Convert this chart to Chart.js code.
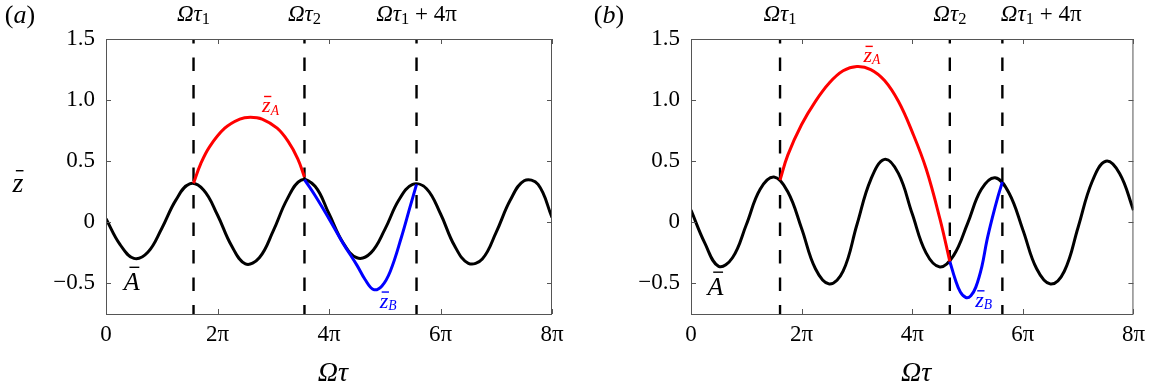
<!DOCTYPE html>
<html>
<head>
<meta charset="utf-8">
<script src="https://cdn.jsdelivr.net/npm/chart.js@4.4.1/dist/chart.umd.min.js"></script>
<style>
  body { margin: 0; background: #fff; }
  #wrap { position: relative; width: 1152px; height: 390px; }
  canvas { position: absolute; top: 0; }
</style>
</head>
<body>
<div id="wrap">
  <canvas id="panelA" width="576" height="390" style="left:0"></canvas>
  <canvas id="panelB" width="576" height="390" style="left:576px"></canvas>
</div>
<script>
// x values are in units of pi (0 .. 8 pi)
const xTicks = [0, 2, 4, 6, 8];
const xLabels = ['0', '2π', '4π', '6π', '8π'];
const yTicks = [-0.5, 0, 0.5, 1, 1.5];
const yLabels = ['−0.5', '0', '0.5', '1.0', '1.5'];

const phase = [0, 0.25, 0.5, 0.75, 1, 1.25, 1.5, 1.75, 2, 2.25, 2.5, 2.75, 3, 3.25, 3.5, 3.75,
               4, 4.25, 4.5, 4.75, 5, 5.25, 5.5, 5.75, 6, 6.25, 6.5, 6.75, 7, 7.25, 7.5, 7.75, 8];

// panel (a)
const tauA = [1.57, 3.56, 5.57];
const blackA = [0.03, -0.18, -0.295, -0.245, -0.05, 0.18, 0.315, 0.265, 0.06, -0.19, -0.34, -0.29, -0.07,
                0.19, 0.345, 0.295, 0.07, -0.165, -0.29, -0.25, -0.06, 0.18, 0.31, 0.275, 0.07, -0.19, -0.335,
                -0.3, -0.08, 0.18, 0.34, 0.31, 0.04];
const redAx = [1.57, 1.7, 1.86, 2.13, 2.4, 2.59, 2.8, 3.07, 3.27, 3.44, 3.56];
const redAy = [0.32, 0.48, 0.62, 0.77, 0.845, 0.86, 0.845, 0.77, 0.66, 0.52, 0.37];
const blueAx = [3.56, 3.75, 4.0, 4.25, 4.5, 4.65, 4.8, 4.95, 5.1, 5.3, 5.45, 5.57];
const blueAy = [0.35, 0.22, 0.03, -0.17, -0.35, -0.47, -0.55, -0.52, -0.4, -0.12, 0.12, 0.31];

// panel (b)
const tauB = [1.61, 4.68, 5.63];
const blackB = [0.1, -0.17, -0.36, -0.29, -0.02, 0.27, 0.37, 0.25, -0.05, -0.38, -0.505, -0.4, -0.02,
                0.35, 0.515, 0.4, 0.07, -0.25, -0.365, -0.27, -0.01, 0.27, 0.365, 0.24, -0.06, -0.38, -0.505,
                -0.4, -0.04, 0.33, 0.5, 0.4, 0.1];
const redBx = [1.61, 1.75, 2.0, 2.25, 2.5, 2.75, 3.0, 3.25, 3.5, 3.75, 4.0, 4.25, 4.5, 4.68];
const redBy = [0.345, 0.55, 0.8, 0.99, 1.14, 1.24, 1.275, 1.25, 1.16, 0.99, 0.74, 0.44, 0.03, -0.32];
const blueBx = [4.68, 4.78, 4.87, 4.97, 5.06, 5.15, 5.26, 5.35, 5.45, 5.55, 5.63];
const blueBy = [-0.32, -0.47, -0.57, -0.615, -0.6, -0.53, -0.36, -0.15, 0.04, 0.21, 0.33];

const SERIF = '"Liberation Serif"';

function pts(xs, ys) { return xs.map((x, i) => ({ x: x, y: ys[i] })); }

// draw a run of text pieces: {t, it (italic), sub, bar}
function drawMath(ctx, parts, x, y, size, align, opt) {
  opt = Object.assign({ subScale: 0.72, subDrop: 0.15, barH: 0.72, barW: 0.8, barDx: 0.06 }, opt || {});
  let total = 0;
  const items = parts.map(p => {
    const fs = p.sub ? size * opt.subScale : size;
    const font = (p.it ? 'italic ' : '') + fs + 'px ' + SERIF;
    ctx.font = font;
    const w = ctx.measureText(p.t).width;
    total += w;
    return Object.assign({}, p, { font: font, w: w, fs: fs });
  });
  let cx = align === 'center' ? x - total / 2 : (align === 'right' ? x - total : x);
  ctx.textBaseline = 'alphabetic';
  ctx.textAlign = 'left';
  items.forEach(it => {
    const yy = y + (it.sub ? size * opt.subDrop : 0);
    ctx.font = it.font;
    ctx.fillText(it.t, cx, yy);
    if (it.bar) {
      const bw = it.w * opt.barW;
      const bx = cx + it.w * 0.5 - bw / 2 + it.fs * opt.barDx;
      ctx.save();
      ctx.strokeStyle = ctx.fillStyle;
      ctx.lineWidth = 1.4;
      ctx.beginPath();
      ctx.moveTo(bx, yy - it.fs * opt.barH);
      ctx.lineTo(bx + bw, yy - it.fs * opt.barH);
      ctx.stroke();
      ctx.restore();
    }
    cx += it.w;
  });
}

function makePanel(id, cfg) {
  const datasets = [
    { data: pts(cfg.redX, cfg.redY), borderColor: '#ff0000' },
    { data: pts(cfg.blueX, cfg.blueY), borderColor: '#0000ff' },
    { data: pts(phase, cfg.black), borderColor: '#000000' }
  ].map(d => Object.assign(d, { borderWidth: 3, tension: 0.4 }));
  cfg.tau.forEach(t => {
    datasets.push({
      data: [{ x: t, y: 1.5 }, { x: t, y: -0.75 }],
      borderColor: '#000', borderWidth: 2.4, borderDash: [13.5, 14], borderDashOffset: 9
    });
  });

  const frame = {
    id: 'frame',
    afterDraw(chart) {
      const ctx = chart.ctx;
      const a = chart.chartArea;
      const xs = chart.scales.x, ys = chart.scales.y;
      ctx.save();
      ctx.strokeStyle = '#555';
      ctx.lineWidth = 1;
      ctx.strokeRect(a.left + 0.5, a.top + 0.5, a.right - a.left - 1, a.bottom - a.top);
      ctx.beginPath();
      xTicks.forEach(v => {
        const px = Math.round(xs.getPixelForValue(v)) + 0.5;
        ctx.moveTo(px, a.bottom); ctx.lineTo(px, a.bottom - 5);
        ctx.moveTo(px, a.top); ctx.lineTo(px, a.top + 5);
      });
      yTicks.forEach(v => {
        const py = Math.round(ys.getPixelForValue(v)) + 0.5;
        ctx.moveTo(a.left, py); ctx.lineTo(a.left + 5, py);
        ctx.moveTo(a.right, py); ctx.lineTo(a.right - 5, py);
      });
      ctx.stroke();

      ctx.fillStyle = '#000';
      // labels of the dashed lines
      const topLabels = [
        [{ t: 'Ωτ', it: true }, { t: '1', sub: true }],
        [{ t: 'Ωτ', it: true }, { t: '2', sub: true }],
        [{ t: 'Ωτ', it: true }, { t: '1', sub: true }, { t: ' + 4π' }]
      ];
      cfg.tau.forEach((t, i) => {
        const px = xs.getPixelForValue(t);
        const al = cfg.lastLeft && i === 2 ? 'left' : 'center';
        drawMath(ctx, topLabels[i], al === 'left' ? px - 1.5 : px, 21, 23, al);
      });
      // panel letter
      drawMath(ctx, [{ t: '(' }, { t: cfg.letter, it: true }, { t: ')' }], cfg.letterX, 23, 26, 'center');
      // x title
      drawMath(ctx, [{ t: 'Ωτ', it: true }], (a.left + a.right) / 2 + 4, 381, 28, 'center');
      if (cfg.yTitle) {
        drawMath(ctx, [{ t: 'z', it: true, bar: true }], a.left - 88, 192, 28, 'center', { barH: 0.76, barW: 0.7 });
      }
      // curve labels
      const lab = { subScale: 0.62, subDrop: 0.1, barH: 0.72, barW: 0.85 };
      ctx.fillStyle = '#ff0000';
      drawMath(ctx, [{ t: 'z', it: true, bar: true }, { t: 'A', it: true, sub: true }],
        xs.getPixelForValue(cfg.zA[0]), ys.getPixelForValue(cfg.zA[1]), 22, 'left', lab);
      ctx.fillStyle = '#0000ff';
      drawMath(ctx, [{ t: 'z', it: true, bar: true }, { t: 'B', it: true, sub: true }],
        xs.getPixelForValue(cfg.zB[0]), ys.getPixelForValue(cfg.zB[1]), 22, 'left', lab);
      ctx.fillStyle = '#000';
      drawMath(ctx, [{ t: 'A', it: true, bar: true }],
        xs.getPixelForValue(cfg.calA[0]), ys.getPixelForValue(cfg.calA[1]), 26, 'left',
        { barH: 0.88, barW: 0.62, barDx: 0.1 });
      ctx.restore();
    }
  };

  return new Chart(document.getElementById(id), {
    type: 'line',
    data: { datasets: datasets },
    options: {
      responsive: false,
      animation: false,
      devicePixelRatio: 1,
      layout: { padding: { left: 0, right: cfg.padRight, top: 39, bottom: 0 } },
      elements: { point: { radius: 0 } },
      plugins: { legend: { display: false }, tooltip: { enabled: false } },
      scales: {
        x: {
          type: 'linear', min: 0, max: 8,
          grid: { display: false, drawTicks: false },
          border: { display: false },
          afterBuildTicks: s => { s.ticks = xTicks.map(v => ({ value: v })); },
          afterFit: s => { s.height = 76; },
          ticks: {
            padding: 7, color: '#000', maxRotation: 0, autoSkip: false,
            font: { family: SERIF, size: 23 },
            callback: v => xLabels[xTicks.indexOf(v)]
          }
        },
        y: {
          type: 'linear', min: -0.75, max: 1.5,
          grid: { display: false, drawTicks: false },
          border: { display: false },
          afterBuildTicks: s => { s.ticks = yTicks.map(v => ({ value: v })); },
          afterFit: s => { s.width = cfg.axisLeft; },
          ticks: {
            padding: 11, color: '#000', autoSkip: false,
            font: { family: SERIF, size: 23 },
            callback: v => yLabels[yTicks.indexOf(v)]
          }
        }
      }
    },
    plugins: [frame]
  });
}

makePanel('panelA', {
  tau: tauA, black: blackA, redX: redAx, redY: redAy, blueX: blueAx, blueY: blueAy,
  axisLeft: 106, padRight: 24, letter: 'a', letterX: 20, yTitle: true, lastLeft: false,
  zA: [2.8, 0.9], zB: [4.91, -0.7], calA: [0.32, -0.555]
});
makePanel('panelB', {
  tau: tauB, black: blackB, redX: redBx, redY: redBy, blueX: blueBx, blueY: blueBy,
  axisLeft: 115, padRight: 16, letter: 'b', letterX: 33, yTitle: false, lastLeft: true,
  zA: [3.12, 1.31], zB: [5.14, -0.69], calA: [0.3, -0.595]
});
</script>
</body>
</html>
